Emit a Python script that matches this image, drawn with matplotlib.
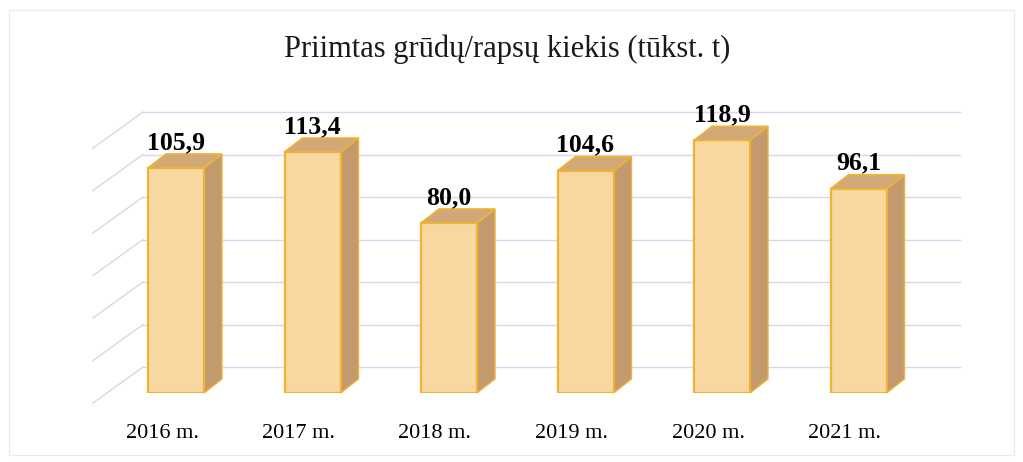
import matplotlib.pyplot as plt
import matplotlib.patches as mpatches
import matplotlib.lines as mlines
import matplotlib.transforms as mtransforms
import numpy as np

years = ['2016 m.', '2017 m.', '2018 m.', '2019 m.', '2020 m.', '2021 m.']
values = [105.9, 113.4, 80.0, 104.6, 118.9, 96.1]
grid_values = [0, 20, 40, 60, 80, 100, 120]

W, H = 1023, 462
DPI = 100

FRONT = '#F9D7A0'
EDGE = '#EEB433'
SIDE = '#C29A6E'
TOP = '#D3A878'
GRID = '#DCD4EC'

plt.rcParams['font.family'] = ['Liberation Serif', 'DejaVu Serif']

fig = plt.figure(figsize=(W / DPI, H / DPI), dpi=DPI)
fig.patch.set_facecolor('white')

# axes in pixel terms: front plane, baseline at y=393 from top
left, right = 80, 960
base, top = 393, 393 - 140 * 2.125
ax = fig.add_axes([left / W, (H - base) / H, (right - left) / W, (base - top) / H])
ax.set_xlim((left - 176) / 136.5, (right - 176) / 136.5)
ax.set_ylim(0, 140)
ax.axis('off')

# faint chart border
fig.add_artist(mpatches.Rectangle((9 / W, 7 / H), 1005 / W, 445 / H, transform=fig.transFigure,
                                  fill=False, edgecolor='#EBEBEB', linewidth=0.8))

# back wall gridlines and left-wall diagonals
ident = mtransforms.IdentityTransform()
x0_back = ax.transAxes.transform((63 / 880, 0))[0]
x1_back = ax.transAxes.transform((1, 0))[0]
x_front = ax.transAxes.transform((13 / 880, 0))[0]
for v in grid_values:
    y = ax.transData.transform((0, v))[1]
    ax.add_artist(mlines.Line2D([x0_back, x1_back], [y + 26, y + 26], transform=ident,
                                color=GRID, linewidth=1.0, zorder=1, clip_on=False))
    ax.add_artist(mlines.Line2D([x_front, x0_back], [y - 10, y + 26], transform=ident,
                                color=GRID, linewidth=1.0, zorder=1, clip_on=False))

# bars with pseudo 3D faces
x = np.arange(len(values))
bw = 56 / 136.5
ddx, ddy = 18, 14
bars = ax.bar(x, values, width=bw, color=FRONT, edgecolor=EDGE, linewidth=1.6, zorder=3)
for b, v in zip(bars, values):
    (xl, y0), (xr, y1) = ax.transData.transform([(b.get_x(), 0), (b.get_x() + b.get_width(), v)])
    side = [(xr, y0), (xr, y1), (xr + ddx, y1 + ddy), (xr + ddx, y0 + ddy)]
    topf = [(xl, y1), (xr, y1), (xr + ddx, y1 + ddy), (xl + ddx, y1 + ddy)]
    ax.add_artist(mpatches.Polygon(side, closed=True, transform=ident, facecolor=SIDE,
                                   edgecolor=EDGE, linewidth=1.0, zorder=2, clip_on=False))
    ax.add_artist(mpatches.Polygon(topf, closed=True, transform=ident, facecolor=TOP,
                                   edgecolor=EDGE, linewidth=1.2, zorder=4, clip_on=False))
    ax.annotate(f'{v:.1f}'.replace('.', ','), (b.get_x() + b.get_width() / 2, v),
                xytext=(0, 14), textcoords='offset pixels', ha='center', va='bottom',
                fontsize=18.5, fontweight='bold', color='black', zorder=5)

for xi, lab in zip(x, years):
    ax.annotate(lab, (xi, 0), xytext=(-14, -40), textcoords='offset pixels',
                ha='center', va='center', fontsize=16, color='#000000')

fig.text(507 / W, 1 - 49 / H, 'Priimtas grūdų/rapsų kiekis (tūkst. t)', ha='center', va='center',
         fontsize=22, color='#1a1a1a')

fig.savefig('out.png', dpi=DPI, facecolor='white')
